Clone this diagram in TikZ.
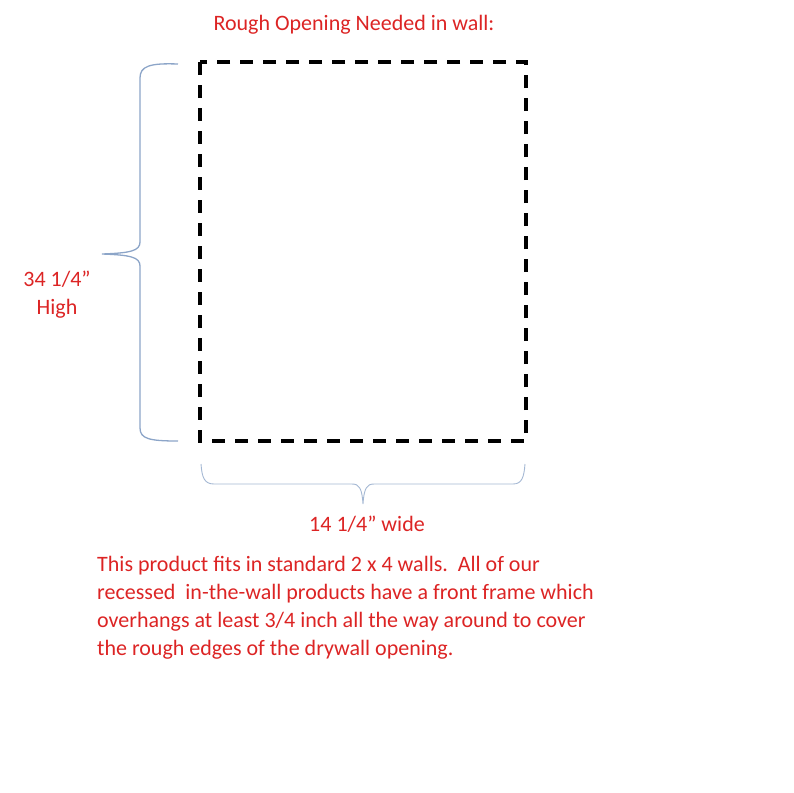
\documentclass[tikz,border=0pt]{standalone}
\usepackage{fontspec}
\setmainfont{Carlito}
\usepackage{xcolor}
\usepackage{tikz}
\usetikzlibrary{positioning, calc}
\definecolor{notered}{RGB}{220,36,36}
\definecolor{bracegray}{RGB}{140,165,200}
\tikzset{%
	opening/.style={draw, line width=3.5pt, dash pattern=on 13pt off 10pt, line cap=butt},
	bracepath/.style={draw=bracegray, line width=1.3pt},
	label/.style={text=notered, inner sep=0pt, font=\fontsize{22}{28}\selectfont},
	notetext/.style={label, align=left, anchor=north west}
}

\begin{document}
\begin{tikzpicture}[x=1pt, y=-1pt]
  \useasboundingbox (0,0) rectangle (793,793);
  \coordinate (tl) at (200,62);
  \coordinate (br) at (526,441);

  \draw[opening] (tl) rectangle (br);

  % height brace
  \draw[bracepath] (178,64) .. controls (150,63) and (140,66) .. (140,78) -- (140,242)
    .. controls (140,251) and (130,253) .. (102,254)
    .. controls (130,255) and (140,257) .. (140,266) -- (140,428)
    .. controls (140,439) and (150,441) .. (178,441);

  % width brace
  \draw[bracepath, line width=0.9pt, draw=bracegray!80] (201,464) .. controls (202,477) and (204,484) .. (214,484) -- (352,484)
    .. controls (359,484) and (362,488) .. (363,504)
    .. controls (364,488) and (367,484) .. (374,484) -- (513,484)
    .. controls (522,484) and (524,477) .. (525,464);

  \node[label] (title) at (354,25) {Rough Opening Needed in wall:};
  \node[label, align=center] (high) at (57,295) {34 1/4\textquotedblright\\High};
  \node[label] (wide) at (367,524) {14 1/4\textquotedblright\ wide};
  \node[notetext] (note) at (97,556) {This product fits in standard 2 x 4 walls.\ \ All of our\\
    recessed\ \ in-the-wall products have a front frame which\\
    overhangs at least 3/4 inch all the way around to cover\\
    the rough edges of the drywall opening.};
\end{tikzpicture}
\end{document}
